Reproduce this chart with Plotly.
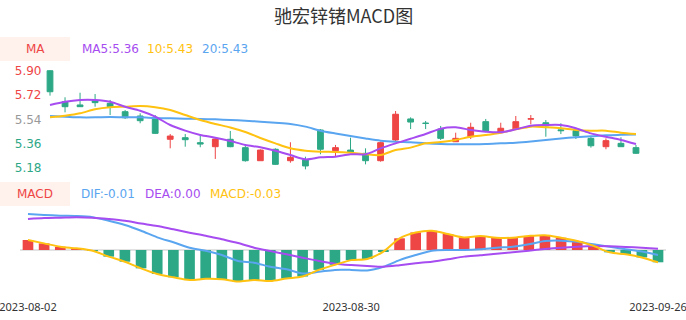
import plotly.graph_objects as go

# ---------------- data ----------------
dates = [
    "2023-08-02", "2023-08-03", "2023-08-04", "2023-08-07", "2023-08-08", "2023-08-09", "2023-08-10",
    "2023-08-11", "2023-08-14", "2023-08-15", "2023-08-16", "2023-08-17", "2023-08-18", "2023-08-21",
    "2023-08-22", "2023-08-23", "2023-08-24", "2023-08-25", "2023-08-28", "2023-08-29", "2023-08-30",
    "2023-08-31", "2023-09-01", "2023-09-04", "2023-09-05", "2023-09-06", "2023-09-07", "2023-09-08",
    "2023-09-11", "2023-09-12", "2023-09-13", "2023-09-14", "2023-09-15", "2023-09-18", "2023-09-19",
    "2023-09-20", "2023-09-21", "2023-09-22", "2023-09-25", "2023-09-26",
]
open_ = [5.902, 5.672, 5.648, 5.680, 5.660, 5.598, 5.566, 5.549, 5.393, 5.405,
         5.368, 5.338, 5.393, 5.331, 5.234, 5.319, 5.234, 5.239, 5.462, 5.308,
         5.313, 5.289, 5.234, 5.388, 5.544, 5.513, 5.469, 5.375, 5.412, 5.524,
         5.442, 5.467, 5.543, 5.516, 5.463, 5.457, 5.400, 5.338, 5.363, 5.331]
high = [5.905, 5.705, 5.739, 5.729, 5.685, 5.610, 5.586, 5.573, 5.432, 5.432,
        5.425, 5.408, 5.455, 5.351, 5.318, 5.326, 5.371, 5.264, 5.469, 5.351,
        5.405, 5.326, 5.375, 5.603, 5.556, 5.529, 5.492, 5.442, 5.516, 5.544,
        5.516, 5.566, 5.573, 5.536, 5.512, 5.462, 5.417, 5.400, 5.408, 5.351]
low = [5.717, 5.593, 5.633, 5.635, 5.573, 5.544, 5.512, 5.432, 5.326, 5.338,
       5.334, 5.247, 5.334, 5.227, 5.234, 5.202, 5.219, 5.170, 5.282, 5.269,
       5.295, 5.207, 5.227, 5.375, 5.469, 5.469, 5.388, 5.375, 5.395, 5.449,
       5.437, 5.462, 5.504, 5.412, 5.432, 5.395, 5.331, 5.319, 5.338, 5.284]
close = [5.746, 5.635, 5.635, 5.665, 5.635, 5.553, 5.531, 5.437, 5.417, 5.390,
         5.358, 5.395, 5.338, 5.234, 5.313, 5.207, 5.259, 5.195, 5.319, 5.331,
         5.299, 5.234, 5.368, 5.579, 5.521, 5.511, 5.400, 5.400, 5.482, 5.455,
         5.475, 5.524, 5.545, 5.492, 5.457, 5.418, 5.345, 5.383, 5.338, 5.289]

ma5 = [5.648, 5.672, 5.685, 5.685, 5.672, 5.635, 5.605, 5.561, 5.499, 5.457,
       5.425, 5.405, 5.380, 5.351, 5.334, 5.308, 5.276, 5.244, 5.259, 5.264,
       5.282, 5.282, 5.326, 5.363, 5.397, 5.432, 5.472, 5.482, 5.462, 5.449,
       5.445, 5.467, 5.494, 5.499, 5.499, 5.475, 5.437, 5.412, 5.388, 5.358]
ma10 = [5.556, 5.568, 5.586, 5.616, 5.631, 5.635, 5.640, 5.631, 5.610, 5.573,
        5.536, 5.507, 5.481, 5.447, 5.403, 5.363, 5.326, 5.308, 5.301, 5.299,
        5.293, 5.282, 5.276, 5.313, 5.331, 5.363, 5.373, 5.388, 5.412, 5.425,
        5.442, 5.467, 5.487, 5.482, 5.475, 5.462, 5.457, 5.457, 5.442, 5.432]
ma20 = [5.566, 5.561, 5.556, 5.556, 5.558, 5.556, 5.556, 5.551, 5.549, 5.546,
        5.544, 5.541, 5.536, 5.531, 5.524, 5.516, 5.507, 5.487, 5.457, 5.436,
        5.417, 5.399, 5.383, 5.375, 5.371, 5.363, 5.358, 5.356, 5.356, 5.358,
        5.363, 5.368, 5.377, 5.388, 5.399, 5.408, 5.415, 5.423, 5.426, 5.428]

dif = [0.092, 0.090, 0.088, 0.087, 0.084, 0.075, 0.064, 0.0495, 0.0325, 0.0197,
       0.006, -0.002, -0.013, -0.028, -0.0325, -0.043, -0.0495, -0.060, -0.056, -0.051,
       -0.051, -0.0525, -0.043, -0.026, -0.013, -0.002, 0.0, 0.0, 0.002, 0.006,
       0.0085, 0.0145, 0.023, 0.024, 0.021, 0.0145, 0.0085, 0.002, -0.004, -0.013]
dea = [0.0795, 0.082, 0.083, 0.084, 0.083, 0.0795, 0.075, 0.068, 0.0615, 0.053,
       0.0445, 0.0367, 0.0274, 0.018, 0.006, -0.0026, -0.011, -0.0197, -0.028, -0.035,
       -0.0385, -0.041, -0.043, -0.039, -0.034, -0.030, -0.024, -0.017, -0.0137, -0.0094,
       -0.006, -0.0017, 0.0026, 0.006, 0.0085, 0.010, 0.0095, 0.008, 0.006, 0.0035]
macd = [0.0256, 0.017, 0.0085, 0.0043, -0.002, -0.017, -0.030, -0.047, -0.0615, -0.070,
        -0.077, -0.074, -0.075, -0.081, -0.077, -0.0795, -0.073, -0.068, -0.051, -0.038,
        -0.026, -0.023, -0.004, 0.030, 0.045, 0.0495, 0.041, 0.032, 0.036, 0.0315,
        0.0315, 0.036, 0.038, 0.0315, 0.023, 0.011, -0.006, -0.011, -0.019, -0.0315]

price_ticks = [5.18, 5.36, 5.54, 5.72, 5.90]
date_ticks = ["2023-08-02", "2023-08-30", "2023-09-26"]
title_text = "驰宏锌锗MACD图"

# ---------------- styles ----------------
W, H = 686, 320
RED = "#ee4545"
GREEN = "#2da886"
PURPLE = "#a64cf0"
YELLOW = "#ffc210"
BLUE = "#5aa5f0"
BOXBG = "#fff1ec"
FONT = "DejaVu Sans"


def px(x):
    return x / W


def py(y):
    return 1 - y / H


fig = go.Figure()

fig.add_trace(go.Candlestick(
    x=dates, open=open_, high=high, low=low, close=close,
    increasing=dict(line=dict(color=RED, width=1), fillcolor=RED),
    decreasing=dict(line=dict(color=GREEN, width=1), fillcolor=GREEN),
    whiskerwidth=0, xaxis="x", yaxis="y", showlegend=False, hoverinfo="skip",
))
for vals, col in [(ma20, BLUE), (ma10, YELLOW), (ma5, PURPLE)]:
    fig.add_trace(go.Scatter(
        x=dates, y=vals, mode="lines", line=dict(color=col, width=2, shape="spline", smoothing=0.8),
        xaxis="x", yaxis="y", showlegend=False, hoverinfo="skip",
    ))

fig.add_trace(go.Bar(
    x=dates, y=macd, marker=dict(color=[RED if v >= 0 else GREEN for v in macd], line=dict(width=0)),
    width=0.66, xaxis="x2", yaxis="y2", showlegend=False, hoverinfo="skip",
))
for vals, col in [(dif, BLUE), (dea, PURPLE), (macd, YELLOW)]:
    fig.add_trace(go.Scatter(
        x=dates, y=vals, mode="lines", line=dict(color=col, width=2, shape="spline", smoothing=0.8),
        xaxis="x2", yaxis="y2", showlegend=False, hoverinfo="skip",
    ))

# price axis mapping: 5.90 at y=71px, 134.7 px per unit
top_px, bot_px = 65, 175
ppu = 134.7
y_top = 5.90 + (71 - top_px) / ppu
y_bot = 5.90 - (bot_px - 71) / ppu

# macd axis: zero at y=250px, 390 px per unit
m_top_px, m_bot_px = 205, 292
mppu = 390
m_top = (250 - m_top_px) / mppu
m_bot = -(m_bot_px - 250) / mppu


def tick_color(v):
    if v > 5.60:
        return RED
    if v < 5.45:
        return GREEN
    return "#999999"


ticktext = [f"<span style='color:{tick_color(v)}'>{v:.2f}</span>" for v in price_ticks]

fig.update_layout(
    width=W, height=H,
    margin=dict(l=0, r=0, t=0, b=0, autoexpand=False),
    paper_bgcolor="white", plot_bgcolor="white",
    font=dict(family=FONT, size=12, color="#333"),
    xaxis=dict(domain=[px(42.5), px(643.5)], type="category", range=[-0.5, 39.5],
               showticklabels=False, showgrid=False, zeroline=False, showline=False,
               rangeslider=dict(visible=False), anchor="y", fixedrange=True, automargin=False),
    yaxis=dict(domain=[py(bot_px), py(top_px)], range=[y_bot, y_top],
               tickvals=price_ticks, ticktext=ticktext, showgrid=False, zeroline=False,
               showline=False, ticks="", tickfont=dict(family=FONT, size=12),
               anchor="x", automargin=False),
    xaxis2=dict(domain=[px(19.9), px(666.1)], type="category", range=[-0.5, 39.5],
                tickvals=date_ticks, ticktext=date_ticks, showgrid=False, zeroline=False,
                showline=False, ticks="", ticklabelstandoff=7,
                tickfont=dict(family="Noto Sans", size=11, color="#333"),
                anchor="y2", automargin=False),
    yaxis2=dict(domain=[py(m_bot_px), py(m_top_px)], range=[m_bot, m_top],
                showticklabels=False, showgrid=False, zeroline=True, zerolinecolor="#e2e2e2",
                zerolinewidth=1.5, showline=False, ticks="", anchor="x2", automargin=False),
    bargap=0.34,
    boxgap=0.45,
)

# title
fig.add_annotation(text=title_text, xref="paper", yref="paper", x=px(343), y=py(15),
                   xanchor="center", yanchor="middle", showarrow=False,
                   font=dict(family="Noto Sans CJK SC", size=18, color="#333"))

# legend boxes
for y0, y1 in [(37, 61), (182, 206)]:
    fig.add_shape(type="rect", xref="paper", yref="paper", x0=0, x1=px(70), y0=py(y1), y1=py(y0),
                  fillcolor=BOXBG, line=dict(width=0), layer="below")

legend_items = [
    ("MA", 35, 49, RED, "center"),
    (f"MA5:{ma5[-1]:.2f}", 80, 49, PURPLE, "left"),
    (f"10:{ma10[-1]:.2f}", 145, 49, YELLOW, "left"),
    (f"20:{ma20[-1]:.2f}", 200, 49, BLUE, "left"),
    ("MACD", 35, 194, RED, "center"),
    (f"DIF:{dif[-1]:.2f}", 79, 194, BLUE, "left"),
    (f"DEA:{abs(dea[-1]) if round(dea[-1], 2) == 0 else dea[-1]:.2f}", 143, 194, PURPLE, "left"),
    (f"MACD:{macd[-1]:.2f}", 208, 194, YELLOW, "left"),
]
for txt, x, y, col, anc in legend_items:
    fig.add_annotation(text=txt, xref="paper", yref="paper", x=px(x), y=py(y),
                       xanchor=anc, yanchor="middle", showarrow=False,
                       font=dict(family=FONT, size=12, color=col))

fig.write_html("out.html")
